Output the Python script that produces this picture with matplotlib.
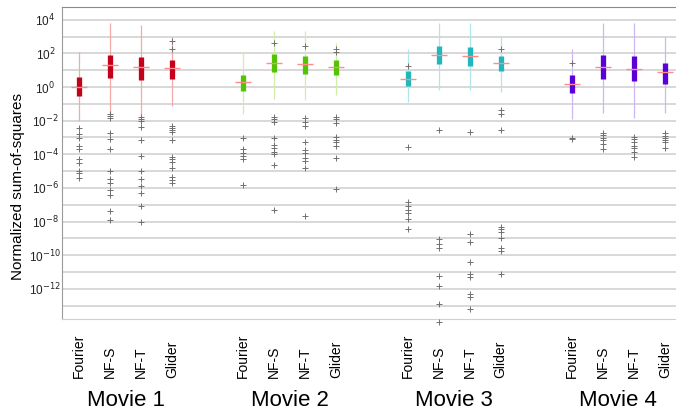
import numpy as np
import matplotlib
matplotlib.use('Agg')
import matplotlib.pyplot as plt
from matplotlib.ticker import FixedLocator, FixedFormatter

plt.rcParams['font.family'] = ['Liberation Sans', 'DejaVu Sans']

movies = ['Movie 1', 'Movie 2', 'Movie 3', 'Movie 4']
methods = ['Fourier', 'NF-S', 'NF-T', 'Glider']

# values are log10 of the normalized sum-of-squares, order: movie, method
whis_hi = [2.1, 3.8, 3.7, 3.0,   2.0, 3.35, 3.35, 2.6,
           2.25, 3.8, 3.8, 3.0,  2.25, 3.8, 3.8, 3.0]
q3 = [0.6, 1.9, 1.8, 1.6,   0.7, 1.95, 1.85, 1.6,
      0.97, 2.45, 2.4, 1.85,  0.7, 1.9, 1.85, 1.4]
med = [0.0, 1.3, 1.2, 1.13,  0.3, 1.45, 1.37, 1.2,
       0.48, 1.9, 1.85, 1.45,  0.18, 1.17, 1.1, 0.9]
q1 = [-0.54, 0.55, 0.42, 0.48,  -0.22, 0.9, 0.8, 0.7,
      0.06, 1.35, 1.25, 0.97,  -0.35, 0.48, 0.36, 0.18]
whis_lo = [-2.0, -1.55, -1.85, -1.13,  -1.6, -0.73, -0.77, -0.47,
           -0.87, -0.2, -0.2, -0.3,  -1.9, -1.55, -1.85, -1.55]
outliers = [
    [-2.44, -2.8, -3.04, -3.5, -3.7, -4.3, -4.5, -5.0, -5.1, -5.4],
    [-1.6, -1.7, -1.85, -2.75, -3.1, -3.7, -5.0, -5.5, -5.7, -6.1, -6.4, -7.4, -7.9],
    [-1.8, -1.9, -2.0, -2.4, -3.15, -4.1, -5.0, -5.5, -5.9, -6.3, -7.1, -8.0],
    [2.75, 2.26, -2.3, -2.45, -2.55, -2.7, -3.15, -4.15, -4.3, -4.45, -4.8, -5.35, -5.55, -5.7],
    [-3.05, -3.7, -3.9, -4.1, -4.3, -5.8],
    [2.6, -1.8, -1.93, -2.1, -3.05, -3.45, -3.65, -3.85, -4.0, -4.65, -7.3],
    [2.45, -1.85, -2.1, -2.3, -3.3, -3.75, -3.9, -4.2, -4.4, -4.8, -7.7],
    [2.25, 2.07, -1.8, -1.9, -2.15, -2.95, -3.15, -3.3, -3.5, -4.25, -6.07],
    [1.27, -3.55, -6.85, -7.1, -7.3, -7.5, -7.85, -8.45],
    [-2.55, -9.05, -9.35, -9.6, -11.25, -11.85, -12.9, -14.0],
    [-2.7, -8.77, -9.2, -10.4, -11.1, -11.3, -12.3, -12.5, -13.2],
    [2.27, -1.37, -1.6, -2.55, -8.3, -8.45, -8.6, -9.0, -9.6, -9.75, -11.1],
    [1.45, -3.05, -3.1],
    [-2.75, -2.85, -3.05, -3.15, -3.4, -3.7],
    [-2.95, -3.1, -3.25, -3.5, -3.65, -3.85, -4.15],
    [-2.75, -2.9, -3.05, -3.15, -3.3, -3.65],
]

box_colors = ['#c4001a', '#52c400', '#1fb8bc', '#5a00d8']
whisker_colors = ['#f4a8a8', '#d2ecaa', '#b0e6e8', '#cdb8f2']
median_color = '#ff8c8c'

fig = plt.figure(figsize=(6.76, 4.18), dpi=100)
ax = fig.add_axes([62/676, 1 - 319/418, 1 - 62/676, 312/418])
ax.set_yscale('log')

group_gap = 5.3
pos = []
for g in range(4):
    for i in range(4):
        pos.append(g * group_gap + i)
pos = np.array(pos)

for k, x in enumerate(pos):
    g = k // 4
    ax.vlines(x, 10**whis_lo[k], 10**whis_hi[k], color=whisker_colors[g], lw=0.9, zorder=3)
    ax.vlines(x, 10**q1[k], 10**q3[k], color=box_colors[g], lw=3.8, zorder=4)
    ax.hlines(10**med[k], x - 0.26, x + 0.26, color=median_color, lw=1.0, zorder=5)
    fl = 10**np.array(outliers[k])
    ax.plot(np.full(len(fl), x), fl, '+', color='#707070', ms=4, mew=0.7,
            zorder=5, clip_on=False)

ax.set_xlim(-0.55, 19.26)
ax.set_ylim(10**-13.8, 10**4.76)

exps = list(range(-13, 5))
ax.yaxis.set_major_locator(FixedLocator([10.0**e for e in exps]))
ax.yaxis.set_major_formatter(FixedFormatter(
    ['10$^{%d}$' % e if e % 2 == 0 else '' for e in exps]))
ax.yaxis.set_minor_locator(FixedLocator([]))
ax.tick_params(axis='y', length=0, pad=12, labelsize=8.5, labelcolor='#222222')
for lab in ax.get_yticklabels():
    lab.set_horizontalalignment('center')
ax.set_xticks([])
ax.grid(axis='y', color='#d6d6d6', lw=1.3, zorder=0)

ax.spines['top'].set_color('#8a8a8a')
ax.spines['left'].set_color('#9a9a9a')
ax.spines['bottom'].set_color('#d0d0d0')
ax.spines['right'].set_visible(False)

for k, x in enumerate(pos):
    ax.text(x, -0.189, methods[k % 4], rotation=90, ha='center', va='bottom',
            fontsize=10, transform=ax.get_xaxis_transform())
for g in range(4):
    ax.text(g * group_gap + 1.5, -0.262, movies[g], ha='center', va='center',
            fontsize=16, transform=ax.get_xaxis_transform())

fig.text(18/676, 1 - 186/418, 'Normalized sum-of-squares', rotation=90,
         ha='center', va='center', fontsize=11)

fig.savefig('out.png', dpi=100)
